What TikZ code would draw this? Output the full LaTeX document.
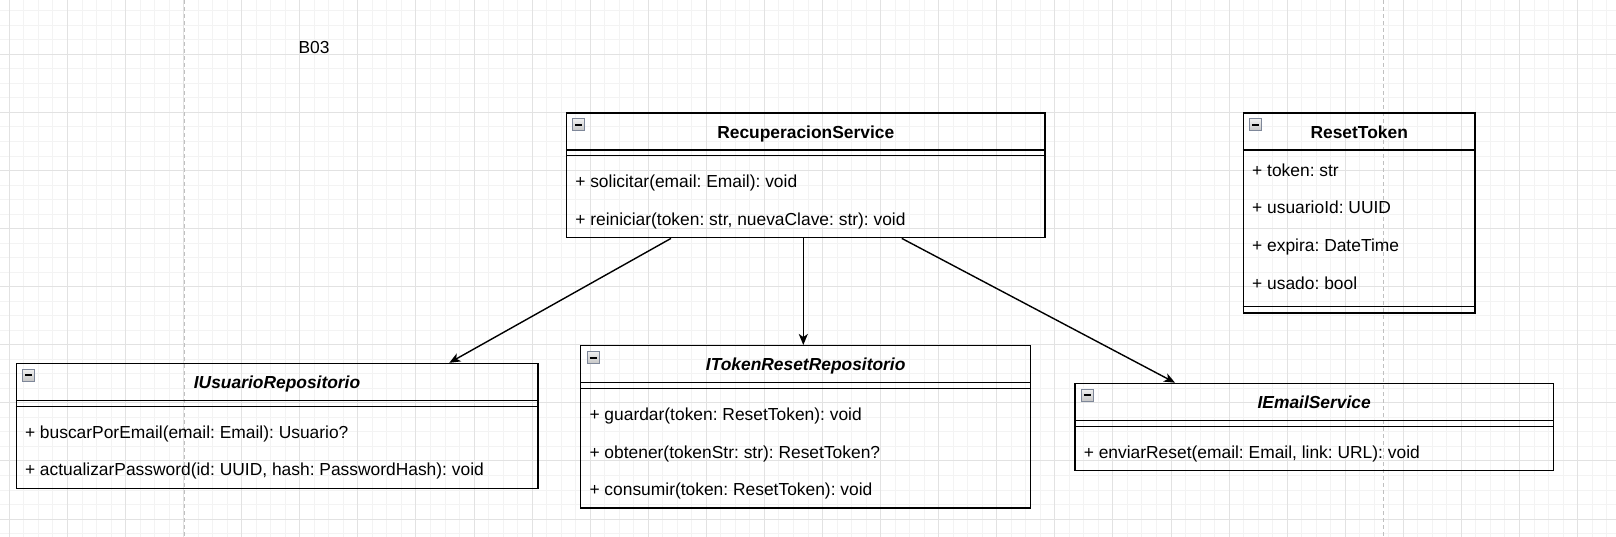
\documentclass[tikz,border=0pt]{standalone}
\usepackage{fontspec}
\setmainfont{Liberation Sans}
\usetikzlibrary{arrows.meta,calc}
\frenchspacing
\definecolor{gridminor}{HTML}{F3F3F3}
\definecolor{gridmajor}{HTML}{E2E2E2}
\definecolor{pagebreak}{HTML}{C0C0C0}
\definecolor{iconframe}{HTML}{7E8799}
\tikzset{
  classbox/.style={draw=black, line width=1.4pt, rectangle, inner sep=0pt, anchor=north west},
  titletext/.style={inner sep=0pt, anchor=base, font=\fontsize{17.4}{20}\selectfont\bfseries},
  ititle/.style={inner sep=0pt, anchor=base, font=\fontsize{17.4}{20}\selectfont\bfseries\itshape},
  rowtext/.style={inner sep=0pt, anchor=base west, font=\fontsize{17.4}{20}\selectfont},
  plaintext/.style={inner sep=0pt, font=\fontsize{17.4}{20}\selectfont},
  sepline/.style={line width=1.4pt},
  dep/.style={line width=1.4pt, -{Stealth[length=11pt,width=9pt,inset=3pt]}},
}
\newcommand\hsep[2]{\draw[sepline] ($(#1.north west)+(0,#2)$) -- ($(#1.north east)+(0,#2)$);}
\newcommand\collapseicon[1]{%
  \draw[iconframe, line width=0.8pt, top color=gray!12, bottom color=gray!45] ($(#1.north west)+(7,6.5)$) rectangle ($(#1.north west)+(19,18.5)$);
  \draw[line width=2pt] ($(#1.north west)+(9.5,12.5)$) -- ($(#1.north west)+(16.5,12.5)$);}
\begin{document}
\begin{tikzpicture}[x=1pt,y=-1pt]
\useasboundingbox (0,0) rectangle (1616,537);
\fill[white] (0,0) rectangle (1616,537);
% grid
\foreach \i in {-1,...,111} \draw[gridminor, line width=0.8pt] ({9.3+14.52*\i},0) -- ({9.3+14.52*\i},537);
\foreach \j in {0,...,38} \draw[gridminor, line width=0.8pt] (0,{-3.78+14.52*\j}) -- (1616,{-3.78+14.52*\j});
\foreach \i in {0,...,28} \draw[gridmajor, line width=0.8pt] ({9.3+58.08*\i},0) -- ({9.3+58.08*\i},537);
\foreach \j in {1,...,10} \draw[gridmajor, line width=0.8pt] (0,{-3.78+58.08*\j}) -- (1616,{-3.78+58.08*\j});
\draw[pagebreak, line width=0.8pt, dash pattern=on 4pt off 3pt] (184,0) -- (184,537);
\draw[pagebreak, line width=0.8pt, dash pattern=on 4pt off 3pt] (1383.3,0) -- (1383.3,537);

\node[plaintext] (b03) at (314,47.2) {B03};

% RecuperacionService
\node[classbox, minimum width=478.5pt, minimum height=124.7pt] (rs) at (565.8,112.3) {};
\collapseicon{rs}
\node[titletext] (rs-t) at ($(rs.north)+(0,25.8)$) {RecuperacionService};
\hsep{rs}{37.7}
\hsep{rs}{43.5}
\node[rowtext] (rs-1) at ($(rs.north west)+(9.3,75.4)$) {+ solicitar(email: Email): void};
\node[rowtext] (rs-2) at ($(rs.north west)+(9.3,113.1)$) {+ reiniciar(token: str, nuevaClave: str): void};

% ResetToken
\node[classbox, minimum width=231.6pt, minimum height=200pt] (rt) at (1242.7,112.3) {};
\collapseicon{rt}
\node[titletext] (rt-t) at ($(rt.north)+(0,25.8)$) {ResetToken};
\hsep{rt}{37.7}
\hsep{rt}{194.2}
\node[rowtext] (rt-1) at ($(rt.north west)+(9.3,63.8)$) {+ token: str};
\node[rowtext] (rt-2) at ($(rt.north west)+(9.3,101.5)$) {+ usuarioId: UUID};
\node[rowtext] (rt-3) at ($(rt.north west)+(9.3,139.2)$) {+ expira: DateTime};
\node[rowtext] (rt-4) at ($(rt.north west)+(9.3,176.9)$) {+ usado: bool};

% IUsuarioRepositorio
\node[classbox, minimum width=521.7pt, minimum height=124.7pt] (iu) at (15.5,362.8) {};
\collapseicon{iu}
\node[ititle] (iu-t) at ($(iu.north)+(0,25.8)$) {IUsuarioRepositorio};
\hsep{iu}{37.7}
\hsep{iu}{43.5}
\node[rowtext] (iu-1) at ($(iu.north west)+(9.3,75.4)$) {+ buscarPorEmail(email: Email): Usuario?};
\node[rowtext] (iu-2) at ($(iu.north west)+(9.3,113.1)$) {+ actualizarPassword(id: UUID, hash: PasswordHash): void};

% ITokenResetRepositorio
\node[classbox, minimum width=450pt, minimum height=162.4pt] (it) at (580,345) {};
\collapseicon{it}
\node[ititle] (it-t) at ($(it.north)+(0,25.8)$) {ITokenResetRepositorio};
\hsep{it}{37.7}
\hsep{it}{43.5}
\node[rowtext] (it-1) at ($(it.north west)+(9.3,75.4)$) {+ guardar(token: ResetToken): void};
\node[rowtext] (it-2) at ($(it.north west)+(9.3,113.1)$) {+ obtener(tokenStr: str): ResetToken?};
\node[rowtext] (it-3) at ($(it.north west)+(9.3,150.8)$) {+ consumir(token: ResetToken): void};

% IEmailService
\node[classbox, minimum width=478.4pt, minimum height=87pt] (ie) at (1074.3,382.7) {};
\collapseicon{ie}
\node[ititle] (ie-t) at ($(ie.north)+(0,25.8)$) {IEmailService};
\hsep{ie}{37.7}
\hsep{ie}{43.5}
\node[rowtext] (ie-1) at ($(ie.north west)+(9.3,75.4)$) {+ enviarReset(email: Email, link: URL): void};

% dependencies
\draw[dep] ($(rs.south west)+(105.2,0)$) -- ($(iu.north west)+(433.8,0)$);
\draw[dep] ($(rs.south west)+(237.5,0)$) -- ($(it.north west)+(223.3,0)$);
\draw[dep] ($(rs.south west)+(336,0)$) -- ($(ie.north west)+(100.7,0)$);
\end{tikzpicture}
\end{document}
